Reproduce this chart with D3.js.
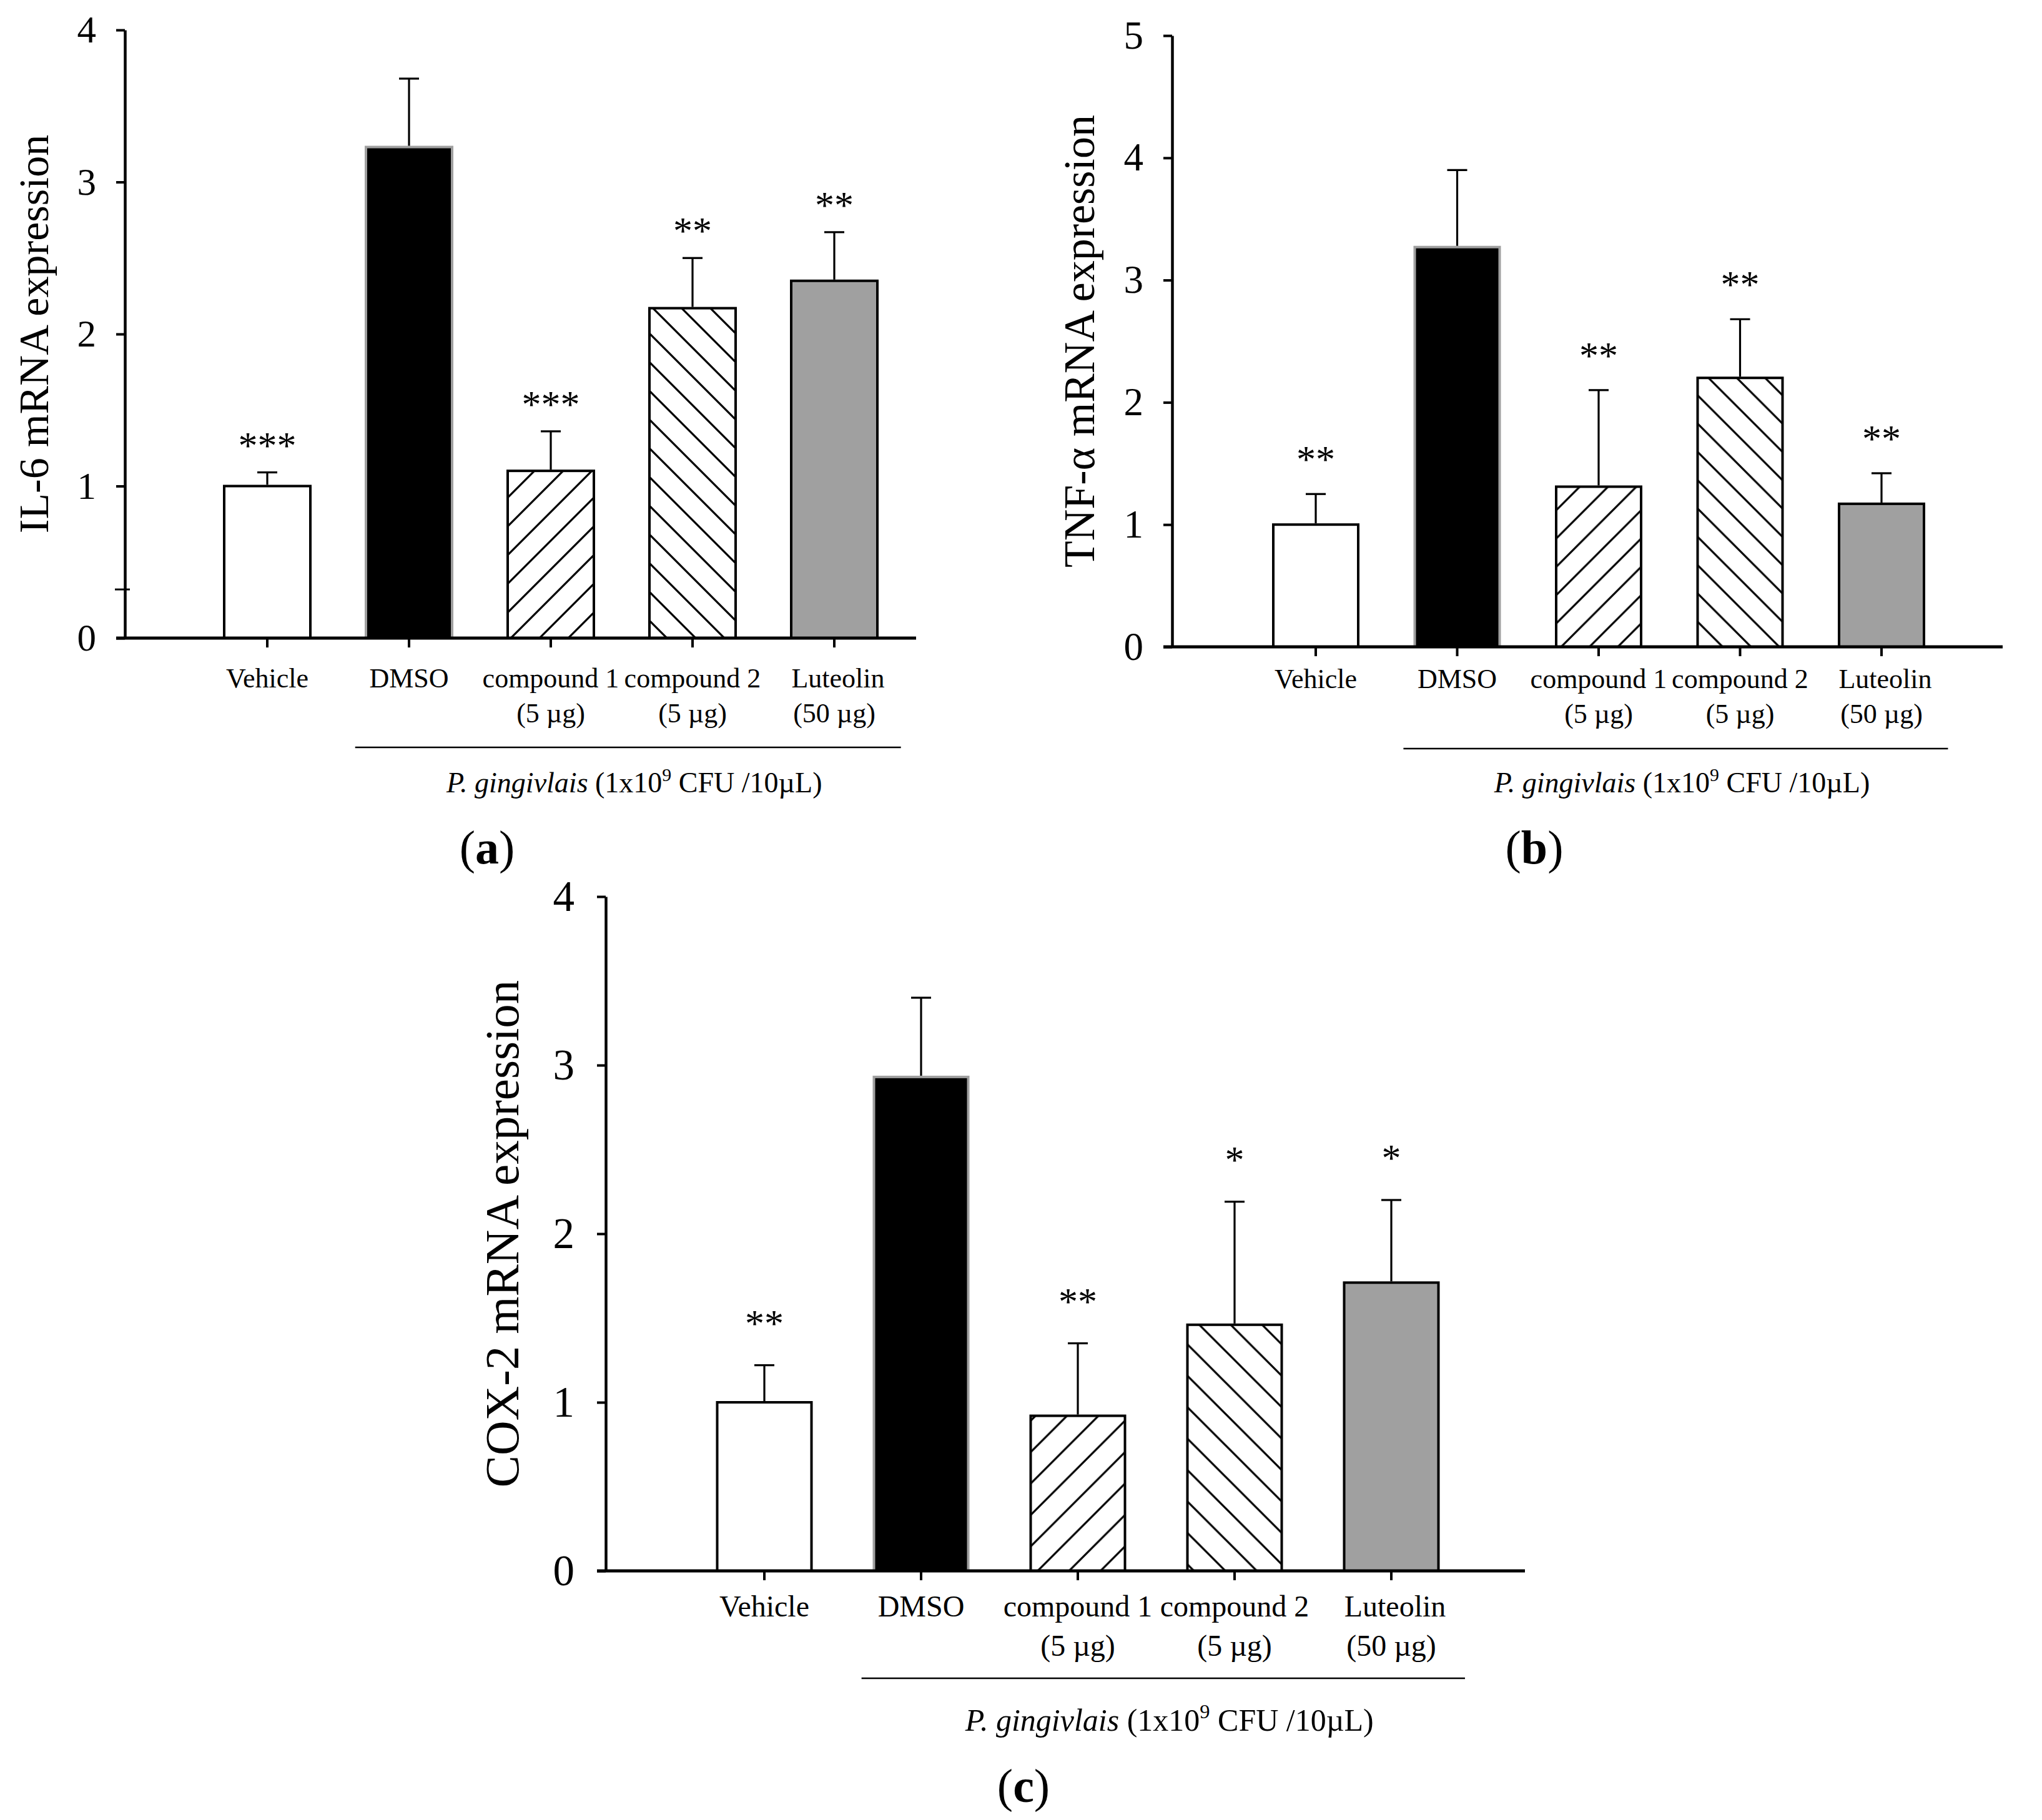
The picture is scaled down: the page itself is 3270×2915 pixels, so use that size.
<!DOCTYPE html>
<html>
<head>
<meta charset="utf-8">
<script src="https://cdn.jsdelivr.net/npm/d3@7"></script>
<style>
  html, body { margin: 0; padding: 0; background: #fff; }
  svg { display: block; }
  text { font-family: "Liberation Serif", "Times New Roman", serif; fill: #000; }
</style>
</head>
<body>
<svg id="chart" width="3270" height="2915"></svg>
<script>
// ---------------- data ----------------
const categories = ["Vehicle", "DMSO", "compound 1", "compound 2", "Luteolin"];
const doseLabels = ["", "", "(5 µg)", "(5 µg)", "(50 µg)"];

const il6Mean = [1.00, 3.23, 1.10, 2.17, 2.35];
const il6Err  = [0.09, 0.45, 0.26, 0.33, 0.32];
const il6Sig  = ["***", "", "***", "**", "**"];
const il6Ticks = [0, 1, 2, 3, 4];
const il6StrayTicks = [0.32];

const tnfMean = [1.00, 3.27, 1.31, 2.20, 1.17];
const tnfErr  = [0.25, 0.63, 0.79, 0.48, 0.25];
const tnfSig  = ["**", "", "**", "**", "**"];
const tnfTicks = [0, 1, 2, 3, 4, 5];

const coxMean = [1.00, 2.93, 0.92, 1.46, 1.71];
const coxErr  = [0.22, 0.47, 0.43, 0.73, 0.49];
const coxSig  = ["**", "", "**", "*", "*"];
const coxTicks = [0, 1, 2, 3, 4];

const fills = ["white", "black", "hatchF", "hatchB", "#a0a0a0"];
const strokes = ["black", "#a0a0a0", "black", "black", "black"];

// ---------------- drawing ----------------
const svg = d3.select("#chart");
const defs = svg.append("defs");

function makeHatch(id, size, forward) {
  const p = defs.append("pattern")
    .attr("id", id).attr("patternUnits", "userSpaceOnUse")
    .attr("width", size).attr("height", size);
  const s = size;
  const d = forward
    ? `M${-s/2},${s/2} L${s/2},${-s/2} M0,${s} L${s},0 M${s/2},${1.5*s} L${1.5*s},${s/2}`
    : `M${-s/2},${s/2} L${s/2},${1.5*s} M0,0 L${s},${s} M${s/2},${-s/2} L${1.5*s},${s/2}`;
  p.append("path").attr("d", d).attr("stroke", "black").attr("stroke-width", 3.2).attr("fill", "none");
}

function drawPanel(cfg) {
  const g = svg.append("g");
  const step = cfg.step;
  const start = cfg.x0 + cfg.firstOff - 0.5 * step;
  const x = d3.scaleBand()
    .domain(categories)
    .range([start, start + 5 * step])
    .paddingInner(1 - cfg.barW / step)
    .paddingOuter((1 - cfg.barW / step) / 2);
  const y = d3.scaleLinear().domain([0, cfg.yMax]).range([cfg.y0, cfg.yTop]);

  const hfId = "hatchF" + cfg.id, hbId = "hatchB" + cfg.id;
  makeHatch(hfId, cfg.barW / 3, true);
  makeHatch(hbId, cfg.barW / 3, false);
  const panelFills = fills.map(f => f === "hatchF" ? `url(#${hfId})` : f === "hatchB" ? `url(#${hbId})` : f);

  // bars
  g.selectAll("rect.bar").data(cfg.mean).join("rect")
    .attr("class", "bar")
    .attr("x", (d, i) => x(categories[i]))
    .attr("y", d => y(d))
    .attr("width", x.bandwidth())
    .attr("height", d => y(0) - y(d))
    .attr("fill", (d, i) => panelFills[i])
    .attr("stroke", (d, i) => strokes[i])
    .attr("stroke-width", 4);

  // error bars (upper only)
  const cx = i => x(categories[i]) + x.bandwidth() / 2;
  g.selectAll("line.err").data(cfg.mean).join("line")
    .attr("x1", (d, i) => cx(i)).attr("x2", (d, i) => cx(i))
    .attr("y1", d => y(d) - 2).attr("y2", (d, i) => y(d + cfg.err[i]))
    .attr("stroke", "black").attr("stroke-width", 3.2);
  g.selectAll("line.cap").data(cfg.mean).join("line")
    .attr("x1", (d, i) => cx(i) - 16).attr("x2", (d, i) => cx(i) + 16)
    .attr("y1", (d, i) => y(d + cfg.err[i])).attr("y2", (d, i) => y(d + cfg.err[i]))
    .attr("stroke", "black").attr("stroke-width", 3.2);

  // significance stars
  const starFs = 62;
  g.selectAll("text.sig").data(cfg.sig).join("text")
    .attr("x", (d, i) => cx(i))
    .attr("y", (d, i) => y(cfg.mean[i] + cfg.err[i]) - cfg.starOff + 0.5 * starFs)
    .attr("text-anchor", "middle")
    .attr("font-size", starFs)
    .text(d => d);

  // y axis
  const yAxis = d3.axisLeft(y).tickValues(cfg.ticks).tickFormat(d3.format("d"))
    .tickSize(14).tickSizeOuter(0).tickPadding(cfg.tickPad);
  const ya = g.append("g").attr("transform", `translate(${cfg.x0},0)`).call(yAxis);
  ya.select(".domain").attr("stroke-width", 4.5);
  ya.selectAll(".tick line").attr("stroke-width", 4);
  ya.selectAll(".tick text").attr("font-size", cfg.tickFs)
    .attr("font-family", '"Liberation Serif", serif').attr("fill", "#000");

  // stray ticks
  (cfg.stray || []).forEach(v => {
    g.append("line").attr("x1", cfg.x0 - 16).attr("x2", cfg.x0 + 8)
      .attr("y1", y(v)).attr("y2", y(v)).attr("stroke", "black").attr("stroke-width", 3);
  });

  // x axis
  const xAxis = d3.axisBottom(x).tickSize(15).tickSizeOuter(0).tickFormat("");
  const xa = g.append("g").attr("transform", `translate(0,${cfg.y0})`).call(xAxis);
  xa.select(".domain").remove();
  xa.selectAll(".tick line").attr("stroke-width", 4);
  g.append("line").attr("x1", cfg.x0 - 14).attr("x2", cfg.axisEnd)
    .attr("y1", cfg.y0).attr("y2", cfg.y0).attr("stroke", "black").attr("stroke-width", 5);

  // category labels
  g.selectAll("text.cat").data(categories).join("text")
    .attr("x", (d, i) => cx(i) + (i === 4 ? 6 : 0))
    .attr("y", cfg.y0 + cfg.lab1)
    .attr("text-anchor", "middle").attr("font-size", cfg.catFs)
    .text(d => d);
  g.selectAll("text.dose").data(doseLabels).join("text")
    .attr("x", (d, i) => cx(i))
    .attr("y", cfg.y0 + cfg.lab2)
    .attr("text-anchor", "middle").attr("font-size", cfg.catFs)
    .text(d => d);

  // group line and note
  const gx1 = cx(1) - 0.38 * step, gx2 = cx(4) + 0.47 * step;
  g.append("line").attr("x1", gx1).attr("x2", gx2)
    .attr("y1", cfg.y0 + cfg.grp).attr("y2", cfg.y0 + cfg.grp)
    .attr("stroke", "black").attr("stroke-width", 2.5);
  const note = g.append("text").attr("x", (gx1 + gx2) / 2 + 10).attr("y", cfg.y0 + cfg.note)
    .attr("text-anchor", "middle").attr("font-size", cfg.noteFs);
  note.append("tspan").attr("font-style", "italic").text("P. gingivlais");
  note.append("tspan").text(" (1x10");
  note.append("tspan").attr("font-size", cfg.noteFs * 0.65).attr("dy", -cfg.noteFs * 0.4).text("9");
  note.append("tspan").attr("dy", cfg.noteFs * 0.4).text(" CFU /10µL)");

  // y label
  g.append("text")
    .attr("transform", `translate(${cfg.x0 - cfg.ylabOff},${(cfg.y0 + cfg.yTop) / 2}) rotate(-90)`)
    .attr("text-anchor", "middle").attr("font-size", cfg.ylabFs)
    .text(cfg.ylab);

  // panel letter
  const pl = g.append("text").attr("x", cfg.letterX).attr("y", cfg.y0 + cfg.letterDy)
    .attr("text-anchor", "middle").attr("font-size", 76);
  pl.append("tspan").text("(");
  pl.append("tspan").attr("font-weight", "bold").text(cfg.letter);
  pl.append("tspan").text(")");
}

drawPanel({
  id: "a", mean: il6Mean, err: il6Err, sig: il6Sig, ticks: il6Ticks, stray: il6StrayTicks, yMax: 4,
  x0: 200, y0: 1022, yTop: 48, step: 227, firstOff: 228, barW: 138, axisEnd: 1467,
  tickFs: 61, tickPad: 32, catFs: 44, noteFs: 46, ylabFs: 68, ylabOff: 123, starOff: 54,
  lab1: 79, lab2: 135, grp: 175, note: 247, letterDy: 361, letterX: 780,
  ylab: "IL-6 mRNA expression", letter: "a"
});
drawPanel({
  id: "b", mean: tnfMean, err: tnfErr, sig: tnfSig, ticks: tnfTicks, yMax: 5,
  x0: 1877, y0: 1036, yTop: 57, step: 226.5, firstOff: 230, barW: 136, axisEnd: 3207,
  tickFs: 63, tickPad: 32, catFs: 44, noteFs: 46, ylabFs: 70, ylabOff: 125, starOff: 66,
  lab1: 66, lab2: 122, grp: 163, note: 233, letterDy: 347, letterX: 2457,
  ylab: "TNF-α mRNA expression", letter: "b"
});
drawPanel({
  id: "c", mean: coxMean, err: coxErr, sig: coxSig, ticks: coxTicks, yMax: 4,
  x0: 970, y0: 2516, yTop: 1436, step: 251, firstOff: 254, barW: 151, axisEnd: 2442,
  tickFs: 69, tickPad: 36, catFs: 48, noteFs: 50, ylabFs: 77, ylabOff: 140, starOff: 78,
  lab1: 73, lab2: 136, grp: 172, note: 256, letterDy: 370, letterX: 1639,
  ylab: "COX-2 mRNA expression", letter: "c"
});
</script>
</body>
</html>
